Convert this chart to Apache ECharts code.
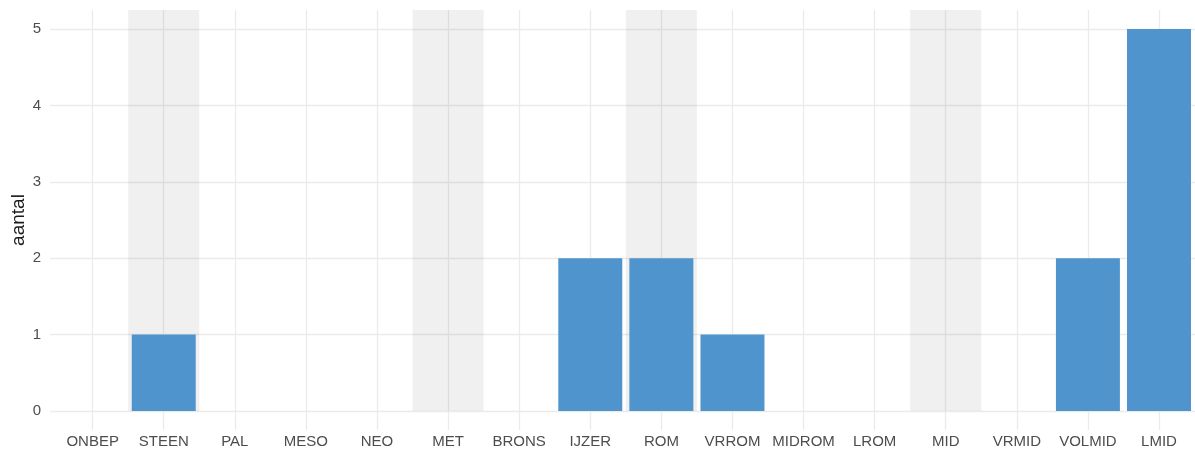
<!DOCTYPE html>
<html>
<head>
<meta charset="utf-8">
<title>aantal per periode</title>
<script src="https://cdn.jsdelivr.net/npm/echarts@6/dist/echarts.min.js"></script>
<style>
  html, body { margin: 0; padding: 0; background: #ffffff; }
  #chart { width: 1195px; height: 456px; }
</style>
</head>
<body>
<div id="chart"></div>
<script>
// Periods along the x axis, in chronological order
const periods = ['ONBEP', 'STEEN', 'PAL', 'MESO', 'NEO', 'MET', 'BRONS', 'IJZER',
                 'ROM', 'VRROM', 'MIDROM', 'LROM', 'MID', 'VRMID', 'VOLMID', 'LMID'];
// Number of finds per period
const counts = [0, 1, 0, 0, 0, 0, 0, 2, 2, 1, 0, 0, 0, 0, 2, 5];
// Main periods highlighted with a grey band
const shadedPeriods = ['STEEN', 'MET', 'ROM', 'MID'];
// Y axis tick labels
const yTicks = [0, 1, 2, 3, 4, 5];

// Discrete positions 1..n with a 0.6 padding on both sides, like a ggplot panel
const positions = periods.map((p, i) => i + 1);
const X_MIN = 0.4, X_MAX = periods.length + 0.6;
const Y_MIN = -0.25, Y_MAX = 5.25;
const BAR_FRACTION = 0.9;

const gridColor = '#ebebeb';
const textColor = '#4d4d4d';
const fontFamily = 'Liberation Sans, Arial, sans-serif';

const chart = echarts.init(document.getElementById('chart'), null, { renderer: 'canvas' });

const gridLines = [
  ...positions.map(x => ({ xAxis: x })),
  ...yTicks.map(y => ({ yAxis: y }))
];

const bands = shadedPeriods.map(name => {
  const x = periods.indexOf(name) + 1;
  return [{ xAxis: x - 0.5, yAxis: 0 }, { xAxis: x + 0.5, yAxis: Y_MAX }];
});

// Each bar spans 90% of its slot, from 0 up to its count
function renderBar(params, api) {
  const x = api.value(0);
  const y = api.value(1);
  if (!y) return null;
  const half = BAR_FRACTION / 2;
  const topLeft = api.coord([x - half, y]);
  const bottomRight = api.coord([x + half, 0]);
  return {
    type: 'rect',
    shape: {
      x: topLeft[0],
      y: topLeft[1],
      width: bottomRight[0] - topLeft[0],
      height: bottomRight[1] - topLeft[1]
    },
    style: { fill: '#4f94cd' }
  };
}

chart.setOption({
  animation: false,
  backgroundColor: '#ffffff',
  grid: {
    left: 50, top: 10, height: 420, width: 71.09 * (X_MAX - X_MIN),
    containLabel: false,
    outerBoundsMode: 'none'
  },
  xAxis: {
    type: 'value',
    min: X_MIN,
    max: X_MAX,
    axisLine: { show: false },
    axisTick: { show: false },
    splitLine: { show: false },
    axisLabel: {
      customValues: positions,
      formatter: v => periods[Math.round(v) - 1] || '',
      color: textColor,
      fontSize: 15,
      fontFamily: fontFamily,
      margin: 4
    }
  },
  yAxis: {
    type: 'value',
    min: Y_MIN,
    max: Y_MAX,
    name: 'aantal',
    nameLocation: 'middle',
    nameRotate: 90,
    nameGap: 22,
    nameMoveOverlap: false,
    nameTextStyle: { fontSize: 19, color: '#1a1a1a', fontFamily: fontFamily },
    axisLine: { show: false },
    axisTick: { show: false },
    splitLine: { show: false },
    axisLabel: {
      customValues: yTicks,
      color: textColor,
      fontSize: 15,
      fontFamily: fontFamily,
      margin: 9
    }
  },
  series: [{
    type: 'custom',
    z: 2,
    renderItem: renderBar,
    encode: { x: 0, y: 1 },
    data: positions.map((x, i) => [x, counts[i]]),
    markLine: {
      z: 0,
      silent: true,
      symbol: ['none', 'none'],
      label: { show: false },
      lineStyle: { color: gridColor, width: 1.3, type: 'solid' },
      emphasis: { disabled: true },
      data: gridLines
    },
    markArea: {
      z: 1,
      silent: true,
      itemStyle: { color: 'rgba(0,0,0,0.06)' },
      label: { show: false },
      data: bands
    }
  }]
});
</script>
</body>
</html>
